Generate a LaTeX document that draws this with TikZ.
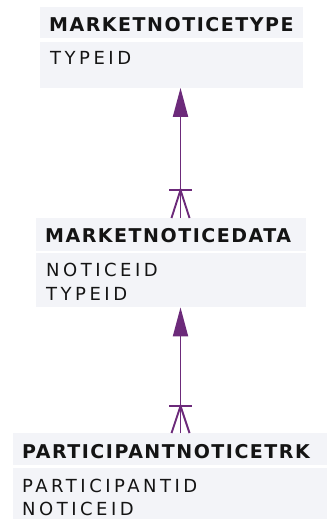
\documentclass[tikz,border=0pt]{standalone}
\usepackage{fontspec}
\usepackage{tikz}
\usetikzlibrary{arrows.meta}
\setmainfont{DejaVu Sans}
\newfontfamily\hdrfont{DejaVu Sans}[LetterSpace=8]
\newfontfamily\attrfont{DejaVu Sans}[LetterSpace=19.5]
\definecolor{boxgray}{RGB}{243,244,248}
\definecolor{relpurple}{RGB}{108,42,122}
\definecolor{txtdark}{RGB}{20,20,20}

\begin{document}
\begin{tikzpicture}[x=1pt,y=-1pt,
    entbox/.style={fill=boxgray, inner sep=0pt, anchor=north west},
    enttitle/.style={anchor=base west, inner sep=0pt, text depth=0pt, font=\hdrfont\bfseries\fontsize{19}{22}\selectfont, text=txtdark},
    entattr/.style={anchor=base west, inner sep=0pt, text depth=0pt, font=\attrfont\fontsize{18}{21}\selectfont, text=txtdark},
    rel/.style={draw=relpurple, line width=1.9pt}]
    \useasboundingbox (0,0) rectangle (327,519);
    % MARKETNOTICETYPE
    \node[entbox, minimum width=263pt, minimum height=31pt] (typehdr) at (40,7) {};
    \node[entbox, minimum width=263pt, minimum height=46pt] (typefld) at (40,41.5) {};
    \node[enttitle] (typename) at (49,31.5) {MARKETNOTICETYPE};
    \node[entattr] (typeid) at (50,64) {TYPEID};
    % MARKETNOTICEDATA
    \node[entbox, minimum width=270pt, minimum height=33pt] (datahdr) at (36,218) {};
    \node[entbox, minimum width=270pt, minimum height=54pt] (datafld) at (36,253) {};
    \node[enttitle] (dataname) at (45,242) {MARKETNOTICEDATA};
    \node[entattr] (datanotice) at (46,276) {NOTICEID};
    \node[entattr] (datatype) at (46,300) {TYPEID};
    % PARTICIPANTNOTICETRK
    \node[entbox, minimum width=314pt, minimum height=32pt] (trkhdr) at (13,433) {};
    \node[entbox, minimum width=314pt, minimum height=51pt] (trkfld) at (13,468) {};
    \node[enttitle] (trkname) at (22,458) {PARTICIPANTNOTICETRK};
    \node[entattr] (trkpart) at (22,492) {PARTICIPANTID};
    \node[entattr] (trknotice) at (22,515) {NOTICEID};
    % relations
    \coordinate (relx) at (180.5,0);
    \draw[rel, -{Triangle[length=29pt,width=15pt]}] (datahdr.north -| relx) -- (typefld.south -| relx);
    \draw[rel] (datahdr.north -| relx) ++(-9,0) -- ++(9,-28) -- ++(9,28);
    \draw[rel] (datahdr.north -| relx) ++(-11.5,-28) -- ++(23,0);
    \draw[rel, -{Triangle[length=29pt,width=15pt]}] (trkhdr.north -| relx) -- (datafld.south -| relx);
    \draw[rel] (trkhdr.north -| relx) ++(-9,0) -- ++(9,-27) -- ++(9,27);
    \draw[rel] (trkhdr.north -| relx) ++(-11.5,-27) -- ++(23,0);
\end{tikzpicture}
\end{document}
